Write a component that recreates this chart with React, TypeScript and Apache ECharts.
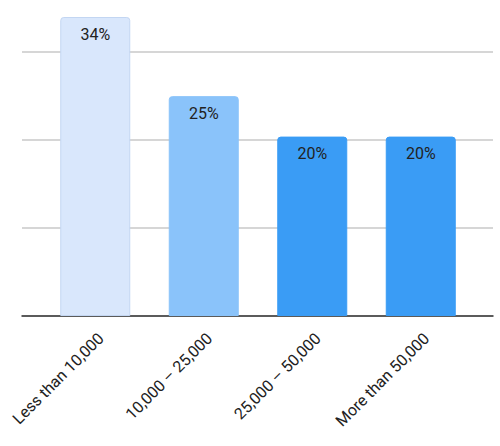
import React, { useEffect, useRef } from "react";
import * as echarts from "echarts";

const categories = ["Less than 10,000", "10,000 – 25,000", "25,000 – 50,000", "More than 50,000"];
const values = [34, 25, 20.4, 20.4];
const barColors = ["#d9e7fc", "#8ac3fa", "#3a9cf5", "#3a9cf5"];
const barBorders = ["#c3d6f2", "#8ac3fa", "#3a9cf5", "#3a9cf5"];

export default function App() {
  const ref = useRef<HTMLDivElement>(null);
  useEffect(() => {
    if (!ref.current) return;
    const chart = echarts.init(ref.current, null, { renderer: "svg" });
    const top = 17;
    const bottom = 130;
    chart.setOption({
      animation: false,
      textStyle: { fontFamily: "Roboto" },
      grid: [
        { left: 22, right: 7, top, bottom },
        { left: 41, right: 25, top, bottom },
      ],
      xAxis: [
        {
          gridIndex: 0,
          type: "category",
          data: [""],
          axisLine: { show: true, lineStyle: { color: "#333", width: 1.5 } },
          axisTick: { show: false },
          axisLabel: { show: false },
        },
        {
          gridIndex: 1,
          type: "category",
          data: categories,
          axisLine: { show: false },
          axisTick: { show: false },
          axisLabel: {
            rotate: 45,
            margin: 14,
            verticalAlign: "top",
            color: "#222",
            fontSize: 16,
            fontFamily: "Roboto",
            interval: 0,
          },
        },
      ],
      yAxis: [
        {
          gridIndex: 0,
          type: "value",
          min: 0,
          max: 34,
          interval: 10,
          axisLine: { show: false },
          axisTick: { show: false },
          axisLabel: { show: false },
          splitLine: { show: true, showMaxLine: false, lineStyle: { color: "#c8c8c8", width: 1.5 } },
        },
        {
          gridIndex: 1,
          type: "value",
          min: 0,
          max: 34,
          show: false,
          splitLine: { show: false },
        },
      ],
      series: [
        {
          type: "bar",
          xAxisIndex: 1,
          yAxisIndex: 1,
          barWidth: 70,
          data: values.map((v, i) => ({
            value: v,
            itemStyle: {
              color: barColors[i],
              borderColor: barBorders[i],
              borderWidth: 1,
              borderRadius: [3, 3, 0, 0],
            },
          })),
          label: {
            show: true,
            position: "insideTop",
            distance: 9,
            formatter: (p: any) => Math.round(p.value) + "%",
            color: "#222",
            fontSize: 16,
            fontFamily: "Roboto",
          },
        },
      ],
    });
    return () => chart.dispose();
  }, []);
  return <div ref={ref} style={{ width: 500, height: 446, position: "absolute", left: 0, top: 0 }} />;
}
